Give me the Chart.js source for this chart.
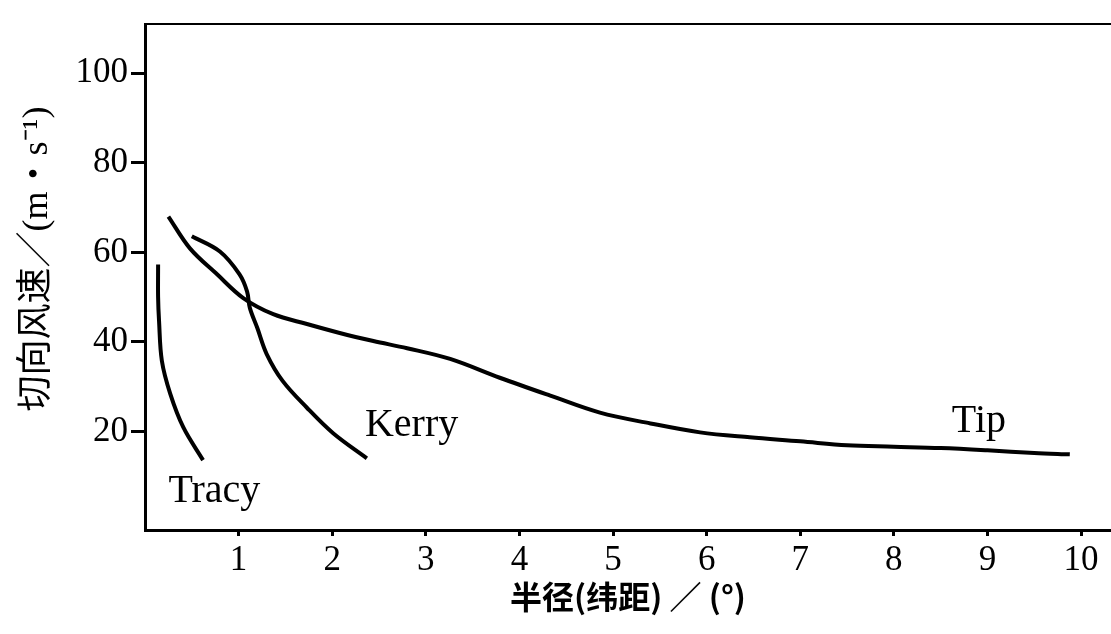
<!DOCTYPE html>
<html lang="zh">
<head>
  <meta charset="UTF-8">
  <title>切向风速随半径的变化</title>
  <script src="https://cdn.jsdelivr.net/npm/chart.js"></script>
  <style>
    body {
      margin: 0;
      background: #fff;
    }
    canvas {
      display: block;
    }
  </style>
</head>
<body>

<canvas id="windChart" width="1111" height="634"></canvas>

<script>
// 半径(纬距) 与 切向风速
const tipX = [0.25, 0.48, 0.77, 1.05, 1.37, 1.73, 2.08, 2.44, 2.8, 3.26, 3.79, 4.33, 4.86, 5.4, 5.93, 6.46, 7.0, 7.5, 8.0, 8.5, 9.0, 9.5, 9.88];
const tipY = [68, 60.9, 55.1, 49.8, 46.2, 44, 42, 40.2, 38.6, 36.2, 32, 28, 24.2, 21.8, 19.8, 18.7, 17.8, 16.9, 16.6, 16.3, 15.8, 15.2, 14.9];

const kerryX = [0.5, 0.8, 1.01, 1.09, 1.12, 1.2, 1.3, 1.47, 1.73, 2.01, 2.37];
const kerryY = [63.6, 60.2, 55.1, 51.3, 47.6, 43.1, 37.3, 31.3, 25.3, 19.6, 14.0];

const tracyX = [0.14, 0.14, 0.15, 0.18, 0.27, 0.41, 0.62];
const tracyY = [57.3, 50, 44.7, 35.8, 28.4, 20.9, 13.6];

const xTicks = [1, 2, 3, 4, 5, 6, 7, 8, 9, 10];
const yTicks = [20, 40, 60, 80, 100];

// 曲线名称，锚点用数据坐标
const curveNames = ['Tracy', 'Kerry', 'Tip'];
const nameX = [0.25, 2.35, 8.62];
const nameY = [4.2, 19.1, 19.8];

function toPoints(xs, ys) {
  return xs.map((x, i) => ({ x: x, y: ys[i] }));
}

const serif = '"Liberation Serif", "Times New Roman", serif';

const curveLabels = {
  id: 'curveLabels',
  afterDatasetsDraw(chart) {
    const ctx = chart.ctx;
    const xs = chart.scales.x;
    const ys = chart.scales.y;
    ctx.save();
    ctx.fillStyle = '#000';
    ctx.font = '40px ' + serif;
    ctx.textAlign = 'left';
    ctx.textBaseline = 'alphabetic';
    curveNames.forEach((name, i) => {
      ctx.fillText(name, xs.getPixelForValue(nameX[i]), ys.getPixelForValue(nameY[i]));
    });
    ctx.restore();
  }
};

const lineStyle = {
  borderColor: '#000',
  borderWidth: 4,
  pointRadius: 0,
  tension: 0.35,
  fill: false
};

new Chart(document.getElementById('windChart'), {
  type: 'line',
  data: {
    datasets: [
      Object.assign({ label: 'Tip', data: toPoints(tipX, tipY) }, lineStyle),
      Object.assign({ label: 'Kerry', data: toPoints(kerryX, kerryY) }, lineStyle),
      Object.assign({ label: 'Tracy', data: toPoints(tracyX, tracyY) }, lineStyle)
    ]
  },
  options: {
    responsive: false,
    animation: false,
    layout: { padding: { top: 21, left: 0, right: 0, bottom: 0 } },
    plugins: {
      legend: { display: false },
      tooltip: { enabled: false }
    },
    scales: {
      x: {
        type: 'linear',
        min: 0,
        max: 10.32,
        afterFit: s => { s.height = 104; },
        afterBuildTicks: s => { s.ticks = xTicks.map(v => ({ value: v })); },
        grid: { drawOnChartArea: false, tickLength: 6, tickWidth: 3, tickColor: '#000' },
        border: { display: true, color: '#000', width: 3 },
        ticks: { color: '#000', padding: 4, font: { family: serif, size: 35 } },
        title: {
          display: true,
          text: '半径(纬距) ／ (°)',
          color: '#000',
          padding: 18,
          font: { family: '"Noto Sans CJK SC", ' + serif, size: 32, weight: 'bold' }
        }
      },
      xTop: {
        type: 'linear',
        position: 'top',
        min: 0,
        max: 10.32,
        afterFit: s => { s.height = 0; },
        grid: { display: false },
        ticks: { display: false },
        border: { display: true, color: '#000', width: 2 }
      },
      y: {
        min: -2,
        max: 111,
        afterFit: s => { s.width = 145; },
        afterBuildTicks: s => { s.ticks = yTicks.map(v => ({ value: v })); },
        grid: { drawOnChartArea: false, tickLength: 14, tickWidth: 3, tickColor: '#000' },
        border: { display: true, color: '#000', width: 3 },
        ticks: { color: '#000', padding: 3, font: { family: serif, size: 35 } },
        title: {
          display: true,
          text: '\u2003切向风速／(m・s⁻¹)',
          color: '#000',
          padding: 16,
          font: { family: serif + ', "Noto Sans CJK SC"', size: 36 }
        }
      }
    }
  },
  plugins: [curveLabels]
});
</script>

</body>
</html>
